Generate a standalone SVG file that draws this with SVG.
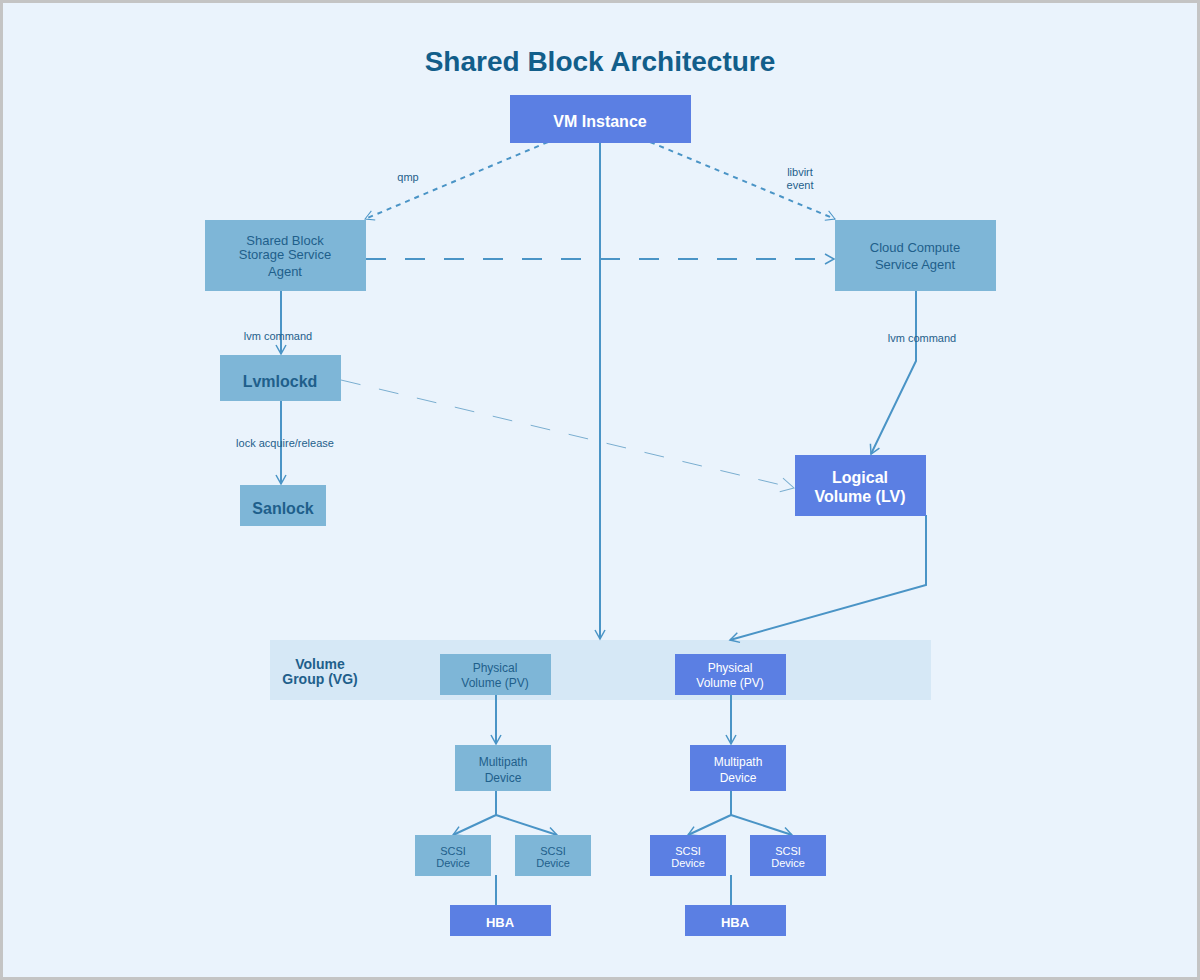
<svg xmlns="http://www.w3.org/2000/svg" width="1200" height="980" viewBox="0 0 1200 980">
<defs>
<marker id="arr" viewBox="0 0 12 12" refX="10" refY="6" markerWidth="12" markerHeight="12" markerUnits="userSpaceOnUse" orient="auto">
<path d="M1,1 L10,6 L1,11" fill="none" stroke="#4A94C6" stroke-width="1.5"/>
</marker>
<marker id="arrs" viewBox="0 0 12 12" refX="10" refY="6" markerWidth="12" markerHeight="12" markerUnits="userSpaceOnUse" orient="auto">
<path d="M1,1 L10,6 L1,11" fill="none" stroke="#4A94C6" stroke-width="1"/>
</marker>
<marker id="arrt" viewBox="0 0 16 16" refX="14" refY="8" markerWidth="16" markerHeight="16" markerUnits="userSpaceOnUse" orient="auto">
<path d="M1,1 L14,8 L1,15" fill="none" stroke="#7AAED0" stroke-width="1"/>
</marker>
</defs>
<style>
text{font-family:"Liberation Sans",Arial,sans-serif;text-anchor:middle}
.lb{fill:#7EB6D7}
.bl{fill:#5B7FE3}
.dt{fill:#1F5F8B}
.wt{fill:#FFFFFF}
.b{font-weight:bold}
.c{fill:none;stroke:#4A94C6;stroke-width:2}
.lab{font-size:11px;fill:#1F5F8B}
</style>
<rect x="0" y="0" width="1200" height="980" fill="#C4C4C4"/>
<rect x="3" y="3" width="1194" height="974" fill="#EAF3FC"/>
<text x="600" y="71" font-size="28" class="b" fill="#125E8A">Shared Block Architecture</text>

<g id="vg-band">
<rect x="270" y="640" width="661" height="60" fill="#D6E8F6"/>
<text x="320" y="669" font-size="14" class="b dt">Volume</text>
<text x="320" y="684" font-size="14" class="b dt">Group (VG)</text>
</g>

<g id="connectors">
<path d="M548,142 L365,219" class="c" stroke-width="1" stroke-dasharray="5,5" marker-end="url(#arrs)"/>
<text x="408" y="181" class="lab">qmp</text>
<path d="M650,142 L835,219" class="c" stroke-width="1" stroke-dasharray="5,5" marker-end="url(#arrs)"/>
<text x="800" y="176" class="lab">libvirt</text>
<text x="800" y="189" class="lab">event</text>
<path d="M366,259 L834,259" class="c" stroke-dasharray="20,19" marker-end="url(#arr)"/>
<path d="M600,142 L600,639" class="c" marker-end="url(#arr)"/>
<path d="M281,290 L281,354" class="c" marker-end="url(#arr)"/>
<text x="278" y="340" class="lab">lvm command</text>
<path d="M281,400 L281,484" class="c" marker-end="url(#arr)"/>
<text x="285" y="447" class="lab">lock acquire/release</text>
<path d="M341,380 L794,488" fill="none" stroke="#7AAED0" stroke-width="1" stroke-dasharray="20,19" marker-end="url(#arrt)"/>
<path d="M916,290 L916,361 L871,454" class="c" marker-end="url(#arr)"/>
<text x="922" y="342" class="lab">lvm command</text>
<path d="M926,515 L926,585 L730,640" class="c" stroke-width="1.5" marker-end="url(#arr)"/>
<path d="M496,694 L496,744" class="c" marker-end="url(#arr)"/>
<path d="M731,694 L731,744" class="c" marker-end="url(#arr)"/>
<path d="M496,790 L496,815 L453,835" class="c" stroke-width="1.5" marker-end="url(#arr)"/>
<path d="M496,815 L557,835" class="c" stroke-width="1.5" marker-end="url(#arr)"/>
<path d="M731,790 L731,815 L688,835" class="c" stroke-width="1.5" marker-end="url(#arr)"/>
<path d="M731,815 L792,835" class="c" stroke-width="1.5" marker-end="url(#arr)"/>
<path d="M496,875 L496,905" class="c"/>
<path d="M731,875 L731,905" class="c"/>
</g>

<g id="vm-instance">
<rect x="510" y="95" width="181" height="48" class="bl"/>
<text x="600" y="127" font-size="16" class="b wt">VM Instance</text>
</g>
<g id="shared-block-agent">
<rect x="205" y="220" width="161" height="71" class="lb"/>
<text x="285" y="245" font-size="13" class="dt">Shared Block</text>
<text x="285" y="259" font-size="13" class="dt">Storage Service</text>
<text x="285" y="276" font-size="13" class="dt">Agent</text>
</g>
<g id="cloud-compute-agent">
<rect x="835" y="220" width="161" height="71" class="lb"/>
<text x="915" y="252" font-size="13" class="dt">Cloud Compute</text>
<text x="915" y="269" font-size="13" class="dt">Service Agent</text>
</g>
<g id="lvmlockd">
<rect x="220" y="355" width="121" height="46" class="lb"/>
<text x="280" y="387" font-size="16" class="b dt">Lvmlockd</text>
</g>
<g id="sanlock">
<rect x="240" y="485" width="86" height="41" class="lb"/>
<text x="283" y="514" font-size="16" class="b dt">Sanlock</text>
</g>
<g id="logical-volume">
<rect x="795" y="455" width="131" height="61" class="bl"/>
<text x="860" y="483" font-size="16" class="b wt">Logical</text>
<text x="860" y="502" font-size="16" class="b wt">Volume (LV)</text>
</g>
<g id="pv-left">
<rect x="440" y="654" width="111" height="41" class="lb"/>
<text x="495" y="672" font-size="12" class="dt">Physical</text>
<text x="495" y="687" font-size="12" class="dt">Volume (PV)</text>
</g>
<g id="pv-right">
<rect x="675" y="654" width="111" height="41" class="bl"/>
<text x="730" y="672" font-size="12" class="wt">Physical</text>
<text x="730" y="687" font-size="12" class="wt">Volume (PV)</text>
</g>
<g id="multipath-left">
<rect x="455" y="745" width="96" height="46" class="lb"/>
<text x="503" y="766" font-size="12" class="dt">Multipath</text>
<text x="503" y="782" font-size="12" class="dt">Device</text>
</g>
<g id="multipath-right">
<rect x="690" y="745" width="96" height="46" class="bl"/>
<text x="738" y="766" font-size="12" class="wt">Multipath</text>
<text x="738" y="782" font-size="12" class="wt">Device</text>
</g>
<g id="scsi-l1">
<rect x="415" y="835" width="76" height="41" class="lb"/>
<text x="453" y="855" font-size="11" class="dt">SCSI</text>
<text x="453" y="867" font-size="11" class="dt">Device</text>
</g>
<g id="scsi-l2">
<rect x="515" y="835" width="76" height="41" class="lb"/>
<text x="553" y="855" font-size="11" class="dt">SCSI</text>
<text x="553" y="867" font-size="11" class="dt">Device</text>
</g>
<g id="scsi-r1">
<rect x="650" y="835" width="76" height="41" class="bl"/>
<text x="688" y="855" font-size="11" class="wt">SCSI</text>
<text x="688" y="867" font-size="11" class="wt">Device</text>
</g>
<g id="scsi-r2">
<rect x="750" y="835" width="76" height="41" class="bl"/>
<text x="788" y="855" font-size="11" class="wt">SCSI</text>
<text x="788" y="867" font-size="11" class="wt">Device</text>
</g>
<g id="hba-left">
<rect x="450" y="905" width="101" height="31" class="bl"/>
<text x="500" y="927" font-size="13" class="b wt">HBA</text>
</g>
<g id="hba-right">
<rect x="685" y="905" width="101" height="31" class="bl"/>
<text x="735" y="927" font-size="13" class="b wt">HBA</text>
</g>
</svg>
